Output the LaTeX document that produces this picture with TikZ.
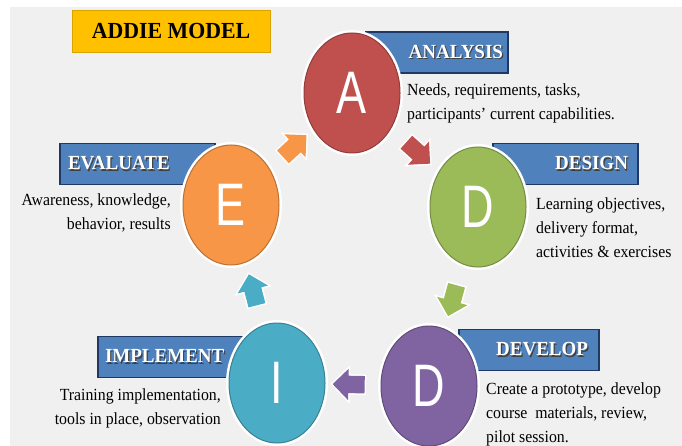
\documentclass[tikz,border=0pt]{standalone}
\usepackage{fontspec}
\setmainfont{Liberation Serif}
\newfontfamily\descfont[FakeStretch=0.93]{Liberation Serif}
\newfontfamily\headfont[FakeStretch=0.95]{Liberation Serif}
\newfontfamily\letterfont[FakeStretch=0.75]{Liberation Sans}
\usepackage{tikz}
\usetikzlibrary{shapes.geometric, shapes.arrows}

\definecolor{redA}{HTML}{C0504D}
\definecolor{greenD}{HTML}{9BBB59}
\definecolor{purpleD}{HTML}{8064A2}
\definecolor{tealI}{HTML}{4BACC6}
\definecolor{orangeE}{HTML}{F79646}
\definecolor{labelblue}{HTML}{4F81BD}
\definecolor{labeledge}{HTML}{1F3864}
\definecolor{bggray}{HTML}{F0F0F0}
\definecolor{titleyellow}{HTML}{FFC000}

% white label text with a dark drop shadow
\newcommand{\shadowtag}[1]{\makebox[0pt][l]{\kern1.2pt\raisebox{-1.2pt}{\textcolor{black!75}{#1}}}#1}

\tikzset{
  phase/.style={ellipse, minimum width=96pt, minimum height=120pt, inner sep=0pt,
    text=white, font=\letterfont\fontsize{60}{60}\selectfont,
    preaction={draw=white, line width=6pt}, line width=1pt},
  tag/.style={rectangle, fill=labelblue, draw=labeledge, line width=1.5pt,
    minimum height=41pt, inner ysep=0pt, text=white,
    font=\headfont\fontsize{20}{20}\selectfont\bfseries},
  desc/.style={inner sep=0pt, font=\descfont\fontsize{17}{24}\selectfont},
  blkarrow/.style={single arrow, sloped, allow upside down, minimum height=32pt,
    minimum width=30pt, single arrow head extend=7pt, inner xsep=0pt, inner ysep=8.5pt,
    preaction={draw=white, line width=3pt}}
}

\begin{document}
\begin{tikzpicture}[x=1pt, y=-1pt]
  \useasboundingbox (0,0) rectangle (682,446);
  \fill[white] (0,0) rectangle (682,446);
  \fill[bggray] (10,7) rectangle (682,446);

  % title
  \node[rectangle, fill=titleyellow, draw=titleyellow!85!black, line width=0.6pt,
    minimum width=198pt, minimum height=42pt, font=\headfont\fontsize{23}{23}\selectfont\bfseries]
    (title) at (171,31) {ADDIE MODEL};

  % phase labels (behind the circles)
  \node[tag, inner xsep=5pt, text width=132pt, align=right] (tagA) at (437,52.5) {\shadowtag{ANALYSIS}};
  \node[tag, inner xsep=10pt, text width=125pt, align=right] (tagD1) at (565.5,164) {\shadowtag{DESIGN}};
  \node[tag, inner xsep=11pt, text width=118pt, align=right] (tagD2) at (529,350) {\shadowtag{DEVELOP}};
  \node[tag, inner xsep=7pt, text width=133pt, align=left] (tagI) at (171.5,357) {\shadowtag{IMPLEMENT}};
  \node[tag, inner xsep=8pt, text width=139pt, align=left] (tagE) at (137.5,164) {\shadowtag{EVALUATE}};

  % descriptions
  \node[desc, anchor=north west, align=left] (txtA) at (407,84)
    {Needs, requirements, tasks,\\participants’ current capabilities.};
  \node[desc, anchor=north west, align=left] (txtD1) at (536,198)
    {Learning objectives,\\delivery format,\\activities \& exercises};
  \node[desc, anchor=north west, align=left] (txtD2) at (486,383)
    {Create a prototype, develop\\course\ \ materials, review,\\pilot session.};
  \node[desc, anchor=north east, align=right] (txtI) at (221,389)
    {Training implementation,\\tools in place, observation};
  \node[desc, anchor=north east, align=right] (txtE) at (171,194)
    {Awareness, knowledge,\\behavior, results};

  % circles
  \node[phase, fill=redA, draw=redA!75!black] (ca) at (352,93) {A};
  \node[phase, fill=greenD, draw=greenD!75!black] (cd1) at (478,207) {D};
  \node[phase, fill=purpleD, draw=purpleD!75!black] (cd2) at (429,386) {D};
  \node[phase, fill=tealI, draw=tealI!75!black] (ci) at (277,383) {I};
  \node[phase, fill=orangeE, draw=orangeE!75!black] (ce) at (231,205) {E};

  % cycle arrows
  \path (ca) -- node[blkarrow, fill=redA] (arA) {} (cd1);
  \path (cd1) -- node[blkarrow, fill=greenD] (arD1) {} (cd2);
  \path (cd2) -- node[blkarrow, fill=purpleD] (arD2) {} (ci);
  \path (ci) -- node[blkarrow, fill=tealI] (arI) {} (ce);
  \path (ce) -- node[blkarrow, fill=orangeE] (arE) {} (ca);
\end{tikzpicture}
\end{document}
